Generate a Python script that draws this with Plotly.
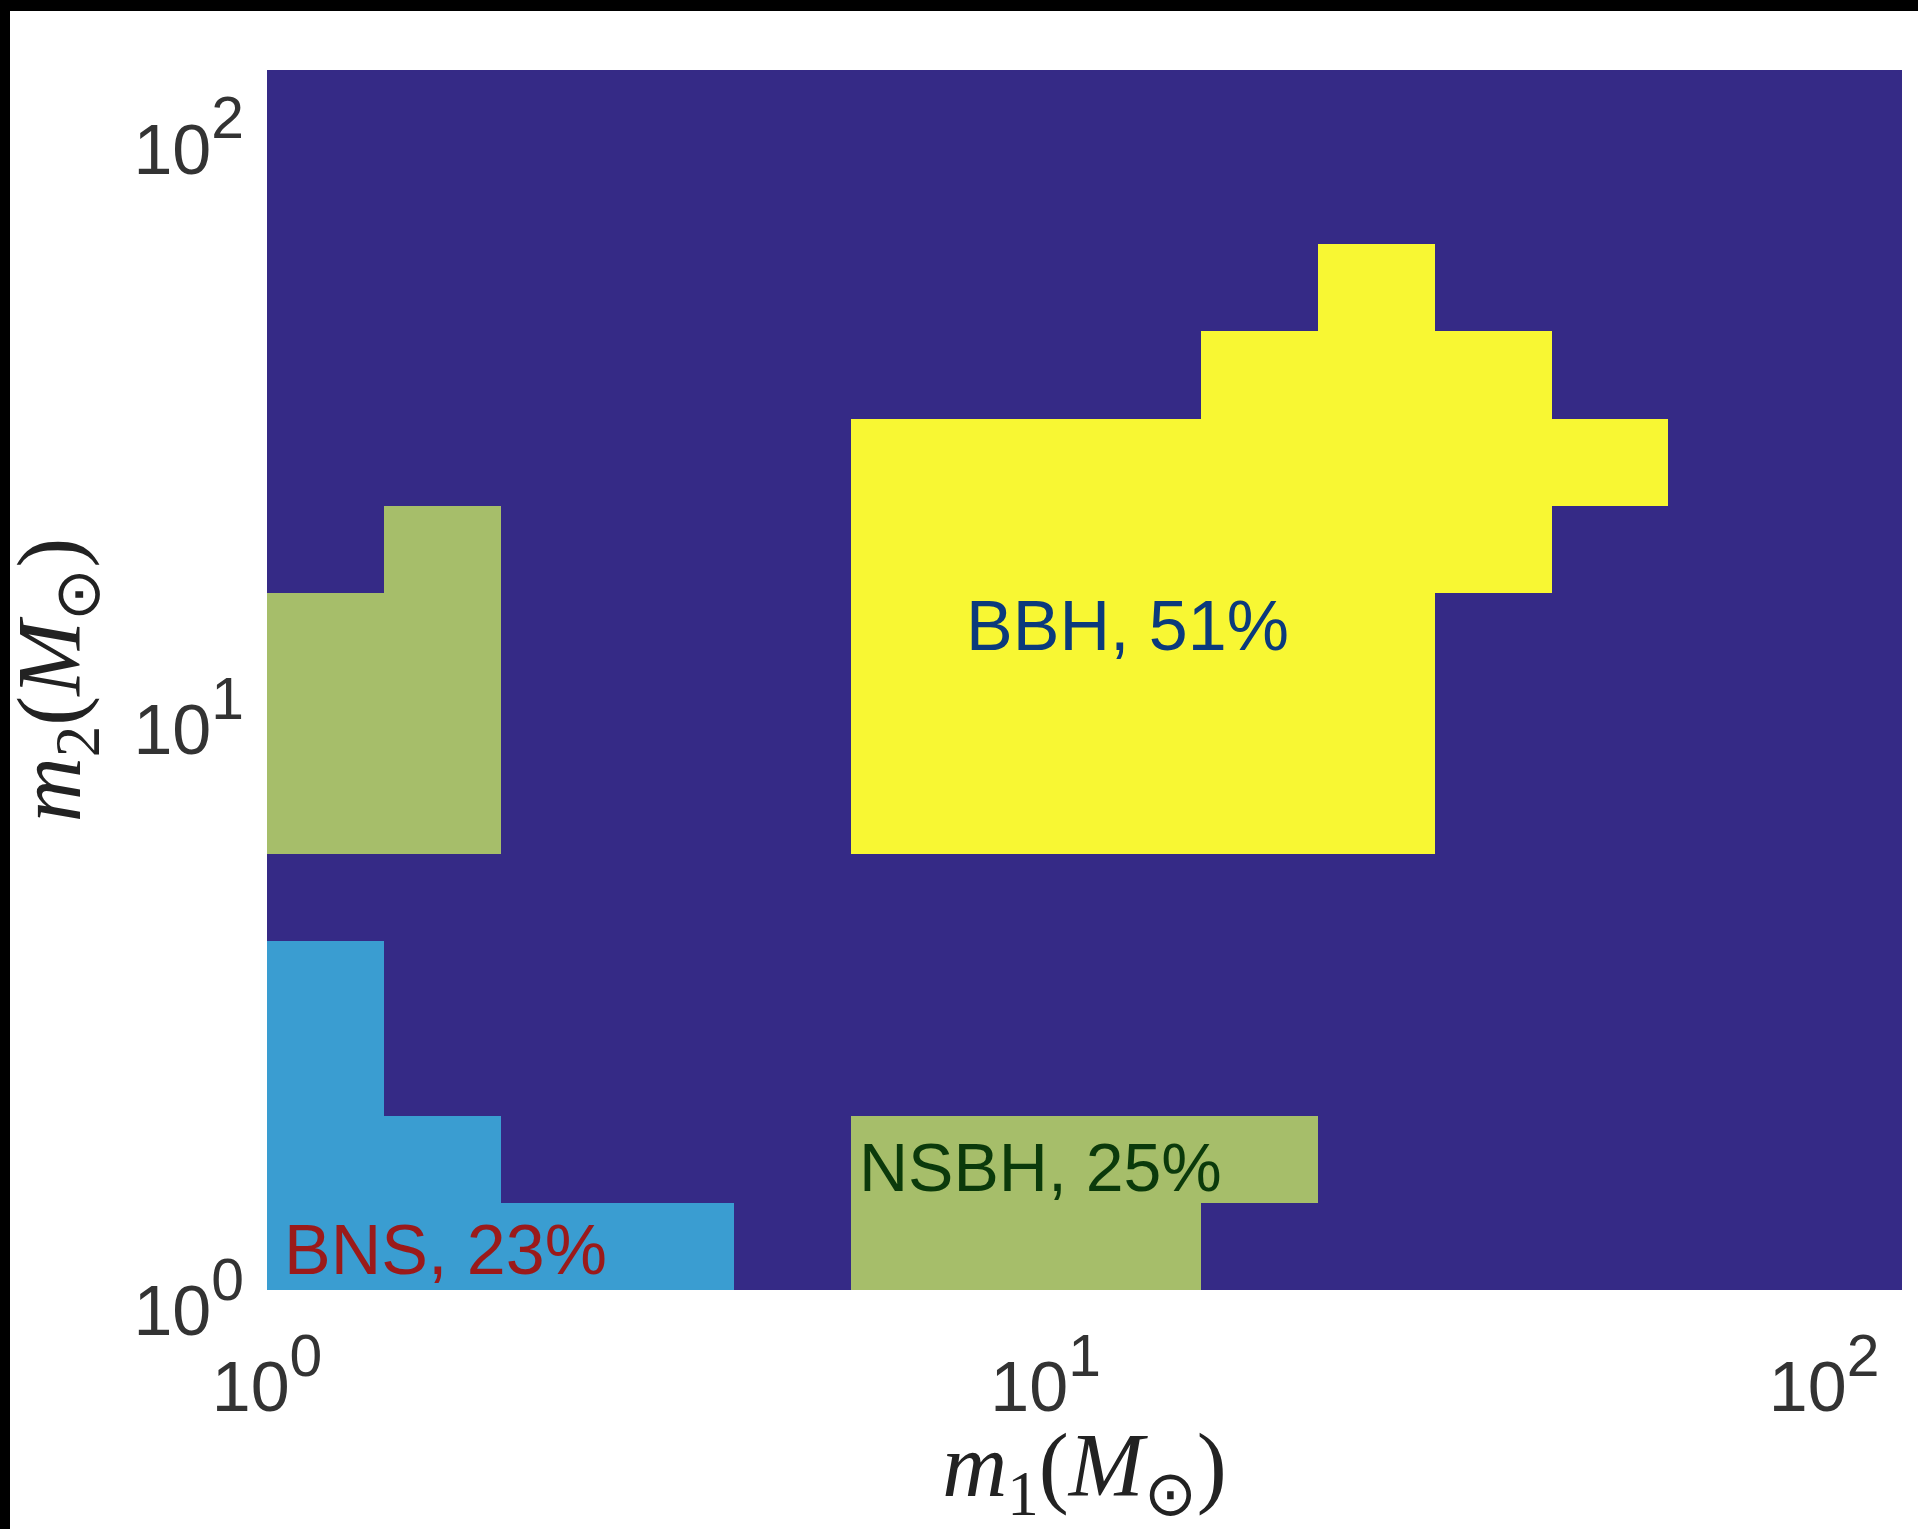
import math
import plotly.graph_objects as go

# log10 bin edges (both axes), 14 bins of 0.15 dex
log_edges = [0.00, 0.15, 0.30, 0.45, 0.60, 0.75, 0.90, 1.05, 1.20, 1.35,
             1.50, 1.65, 1.80, 1.95, 2.10]
m1_edges = [10 ** e for e in log_edges]
m2_edges = [10 ** e for e in log_edges]

# class per bin: 0 = none, 1 = BNS, 2 = NSBH, 3 = BBH ; rows = m2 bins (bottom -> top)
class_grid = [
    [1, 1, 1, 1, 0, 2, 2, 2, 0, 0, 0, 0, 0, 0],
    [1, 1, 0, 0, 0, 2, 2, 2, 2, 0, 0, 0, 0, 0],
    [1, 0, 0, 0, 0, 0, 0, 0, 0, 0, 0, 0, 0, 0],
    [1, 0, 0, 0, 0, 0, 0, 0, 0, 0, 0, 0, 0, 0],
    [0, 0, 0, 0, 0, 0, 0, 0, 0, 0, 0, 0, 0, 0],
    [2, 2, 0, 0, 0, 3, 3, 3, 3, 3, 0, 0, 0, 0],
    [2, 2, 0, 0, 0, 3, 3, 3, 3, 3, 0, 0, 0, 0],
    [2, 2, 0, 0, 0, 3, 3, 3, 3, 3, 0, 0, 0, 0],
    [0, 2, 0, 0, 0, 3, 3, 3, 3, 3, 3, 0, 0, 0],
    [0, 0, 0, 0, 0, 3, 3, 3, 3, 3, 3, 3, 0, 0],
    [0, 0, 0, 0, 0, 0, 0, 0, 3, 3, 3, 0, 0, 0],
    [0, 0, 0, 0, 0, 0, 0, 0, 0, 3, 0, 0, 0, 0],
    [0, 0, 0, 0, 0, 0, 0, 0, 0, 0, 0, 0, 0, 0],
    [0, 0, 0, 0, 0, 0, 0, 0, 0, 0, 0, 0, 0, 0],
]

labels = ["BBH, 51%", "NSBH, 25%", "BNS, 23%"]
label_m1 = [12.76, 9.86, 1.693]
label_m2 = [13.9, 1.63, 1.17]
label_colors = ["#0b3a7c", "#0b3a0b", "#9b1a1a"]
label_sizes = [70, 68, 70]

tick_vals = [1, 10, 100]
tick_text = ['<span style="font-size:70px">10</span><sup>0</sup>',
             '<span style="font-size:70px">10</span><sup>1</sup>',
             '<span style="font-size:70px">10</span><sup>2</sup>']

colors = ["#352a86", "#3a9dd1", "#a6be6a", "#f8f733"]

fig = go.Figure()
fig.add_trace(go.Heatmap(
    x=m1_edges, y=m2_edges, z=class_grid,
    zmin=0, zmax=3,
    colorscale=[[0, colors[0]], [1 / 3, colors[1]], [2 / 3, colors[2]], [1, colors[3]]],
    showscale=False, hoverinfo="skip", zsmooth=False,
))

# annotations on log axes are positioned in log10 units
for t, x, y, c, s in zip(labels, label_m1, label_m2, label_colors, label_sizes):
    fig.add_annotation(x=math.log10(x), y=math.log10(y), xref="x", yref="y", text=t,
                       showarrow=False, xanchor="center", yanchor="middle",
                       font=dict(family="Liberation Sans, Arial, sans-serif", size=s, color=c))

# black screenshot border (top and left)
fig.add_shape(type="rect", xref="paper", yref="paper",
              x0=-267 / 1635, x1=(1918 - 267) / 1635, y0=(1290 - 11) / 1220, y1=1290 / 1220,
              fillcolor="black", line_width=0, layer="above")
fig.add_shape(type="rect", xref="paper", yref="paper",
              x0=-267 / 1635, x1=(10 - 267) / 1635, y0=(1290 - 1529) / 1220, y1=1290 / 1220,
              fillcolor="black", line_width=0, layer="above")

tick_font = dict(family="Liberation Sans, Arial, sans-serif", size=84, color="#333333")
title_font = dict(family="Liberation Serif, Times New Roman, serif", size=90, color="#222222")

fig.update_xaxes(type="log", range=[0, 2.1], tickvals=tick_vals, ticktext=tick_text,
                 showgrid=False, zeroline=False, showline=False, ticks="",
                 tickfont=tick_font, ticklabelstandoff=36,
                 title=dict(text="<i>m</i><sub>1</sub>(<i>M</i><sub>⊙</sub>)", font=title_font, standoff=12))
fig.update_yaxes(type="log", range=[0, 2.1], tickvals=tick_vals, ticktext=tick_text,
                 showgrid=False, zeroline=False, showline=False, ticks="",
                 tickfont=tick_font, ticklabelstandoff=22, ticklabelshift=16,
                 title=dict(text="<i>m</i><sub>2</sub>(<i>M</i><sub>⊙</sub>)", font=title_font, standoff=22))

fig.update_layout(
    width=1918, height=1529,
    margin=dict(l=267, r=16, t=70, b=239, autoexpand=False),
    paper_bgcolor="white", plot_bgcolor="white",
    showlegend=False,
)

fig.write_html("out.html")
